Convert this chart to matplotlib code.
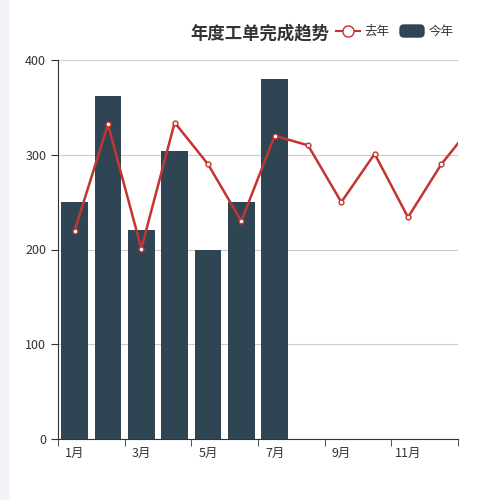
import numpy as np
import matplotlib.pyplot as plt
from matplotlib.lines import Line2D
from matplotlib.patches import FancyBboxPatch

plt.rcParams['font.family'] = ['Noto Sans CJK SC', 'DejaVu Sans']

months = ['1月', '2月', '3月', '4月', '5月', '6月', '7月', '8月', '9月', '10月', '11月', '12月']
this_year = [250, 362, 221, 304, 200, 250, 380]
last_year = [220, 332, 201, 334, 290, 230, 320, 310, 250, 301, 234, 290, 334]

fig = plt.figure(figsize=(5, 5), dpi=100)
fig.patches.append(plt.Rectangle((0, 0), 8 / 500, 1, transform=fig.transFigure,
                                 color='#f2f2f7', zorder=0))
ax = fig.add_axes([58 / 500, 61 / 500, 400 / 500, 379 / 500])

x = np.arange(len(this_year))
ax.bar(x, this_year, width=0.8, color='#2f4554', zorder=2)
xl = np.arange(len(last_year))
ax.plot(xl, last_year, color='#c23531', lw=1.8, marker='o', ms=3.5,
        markerfacecolor='white', markeredgecolor='#c23531', zorder=3, clip_on=True)

ax.set_xlim(-0.5, 11.5)
ax.set_ylim(0, 400)
ax.set_yticks([0, 100, 200, 300, 400])
ax.grid(axis='y', color='#cccccc', lw=0.8, zorder=0)
ax.set_xticks(np.arange(0, 12, 2))
ax.set_xticklabels(months[::2])
ax.set_xticks(np.arange(-0.5, 12, 2), minor=True)
ax.tick_params(axis='x', which='major', length=0, labelsize=9, colors='#333333', pad=6)
ax.tick_params(axis='x', which='minor', length=5, color='#333333')
ax.tick_params(axis='y', length=5, labelsize=9, colors='#333333')
for s in ['top', 'right']:
    ax.spines[s].set_visible(False)
ax.spines['left'].set_color('#333333')
ax.spines['bottom'].set_color('#333333')

fig.text(329 / 500, 1 - 33 / 500, '年度工单完成趋势', ha='right', va='center',
         fontsize=12.5, fontweight='bold', color='#333333')
fig.add_artist(Line2D([336 / 500, 360 / 500], [1 - 31 / 500] * 2, color='#c23531', lw=1.5,
                      transform=fig.transFigure))
fig.add_artist(Line2D([348 / 500], [1 - 31 / 500], marker='o', ms=8, markerfacecolor='white',
                      markeredgecolor='#c23531', transform=fig.transFigure))
fig.text(364 / 500, 1 - 31 / 500, '去年', va='center', fontsize=9, color='#333333')
fig.patches.append(FancyBboxPatch((400 / 500, 1 - 37 / 500), 24 / 500, 12 / 500,
                                  boxstyle='round,pad=0,rounding_size=0.008',
                                  transform=fig.transFigure, color='#2f4554'))
fig.text(429 / 500, 1 - 31 / 500, '今年', va='center', fontsize=9, color='#333333')

fig.savefig('out.png')
